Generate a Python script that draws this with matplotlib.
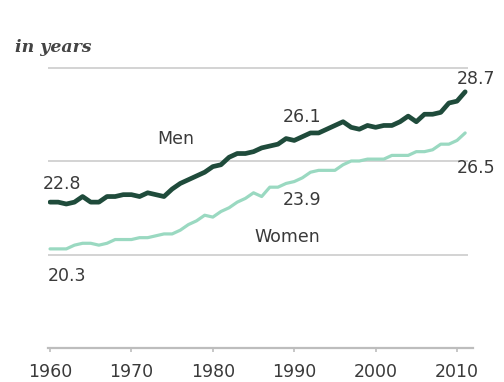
import matplotlib
matplotlib.use("Agg")
import matplotlib.pyplot as plt

years = list(range(1960, 2012))
men = [22.8, 22.8, 22.7, 22.8, 23.1, 22.8, 22.8, 23.1, 23.1, 23.2,
       23.2, 23.1, 23.3, 23.2, 23.1, 23.5, 23.8, 24.0, 24.2, 24.4,
       24.7, 24.8, 25.2, 25.4, 25.4, 25.5, 25.7, 25.8, 25.9, 26.2,
       26.1, 26.3, 26.5, 26.5, 26.7, 26.9, 27.1, 26.8, 26.7, 26.9,
       26.8, 26.9, 26.9, 27.1, 27.4, 27.1, 27.5, 27.5, 27.6, 28.1,
       28.2, 28.7]
women = [20.3, 20.3, 20.3, 20.5, 20.6, 20.6, 20.5, 20.6, 20.8, 20.8,
         20.8, 20.9, 20.9, 21.0, 21.1, 21.1, 21.3, 21.6, 21.8, 22.1,
         22.0, 22.3, 22.5, 22.8, 23.0, 23.3, 23.1, 23.6, 23.6, 23.8,
         23.9, 24.1, 24.4, 24.5, 24.5, 24.5, 24.8, 25.0, 25.0, 25.1,
         25.1, 25.1, 25.3, 25.3, 25.3, 25.5, 25.5, 25.6, 25.9, 25.9,
         26.1, 26.5]
xticks = [1960, 1970, 1980, 1990, 2000, 2010]
gridvals = [20, 25, 30]

W, H = 504, 382
fig = plt.figure(figsize=(W / 100, H / 100), dpi=100)
x0, x1 = 48.4, 473.3
y0, y1 = 348, 48.8
ax = fig.add_axes([x0 / W, (H - y0) / H, (x1 - x0) / W, (y0 - y1) / H])
ax.set_xlim(1959.8, 2012.0)
ax.set_ylim(15, 31)

for g in gridvals:
    ax.hlines(g, 1959.8, 2011.3, color="#d0d0d0", lw=1.3, zorder=1)

ax.plot(years, women, color="#9ad9c1", lw=2.3, zorder=3, solid_capstyle="round")
ax.plot(years, men, color="#1f4b3b", lw=3.4, zorder=4, solid_capstyle="round")

for s in ["top", "right", "left"]:
    ax.spines[s].set_visible(False)
ax.spines["bottom"].set_color("#bdbdbd")
ax.spines["bottom"].set_linewidth(1.6)
ax.set_yticks([])
ax.set_xticks(xticks)
ax.set_xticklabels([str(t) for t in xticks])
ax.tick_params(axis="x", colors="#bdbdbd", length=3, width=1.2, pad=8,
               labelcolor="#3a3a3a", labelsize=12.5)

tc = "#3a3a3a"
fs = 12.5
ax.text(1961.5, 23.77, "22.8", color=tc, fontsize=fs, ha="center", va="center")
ax.text(1962.1, 18.85, "20.3", color=tc, fontsize=fs, ha="center", va="center")
ax.text(1991.0, 27.35, "26.1", color=tc, fontsize=fs, ha="center", va="center")
ax.text(2012.3, 29.38, "28.7", color=tc, fontsize=fs, ha="center", va="center")
ax.text(2012.3, 24.63, "26.5", color=tc, fontsize=fs, ha="center", va="center")
ax.text(1991.0, 22.91, "23.9", color=tc, fontsize=fs, ha="center", va="center")
ax.text(1975.5, 26.18, "Men", color=tc, fontsize=fs, ha="center", va="center")
ax.text(1989.2, 20.94, "Women", color=tc, fontsize=fs, ha="center", va="center")

fig.text(15 / W, 1 - 47 / H, "in years", fontsize=12.5, style="italic",
         weight="semibold", family="DejaVu Serif", color="#444444",
         ha="left", va="center")

fig.savefig("out.png", dpi=100)
